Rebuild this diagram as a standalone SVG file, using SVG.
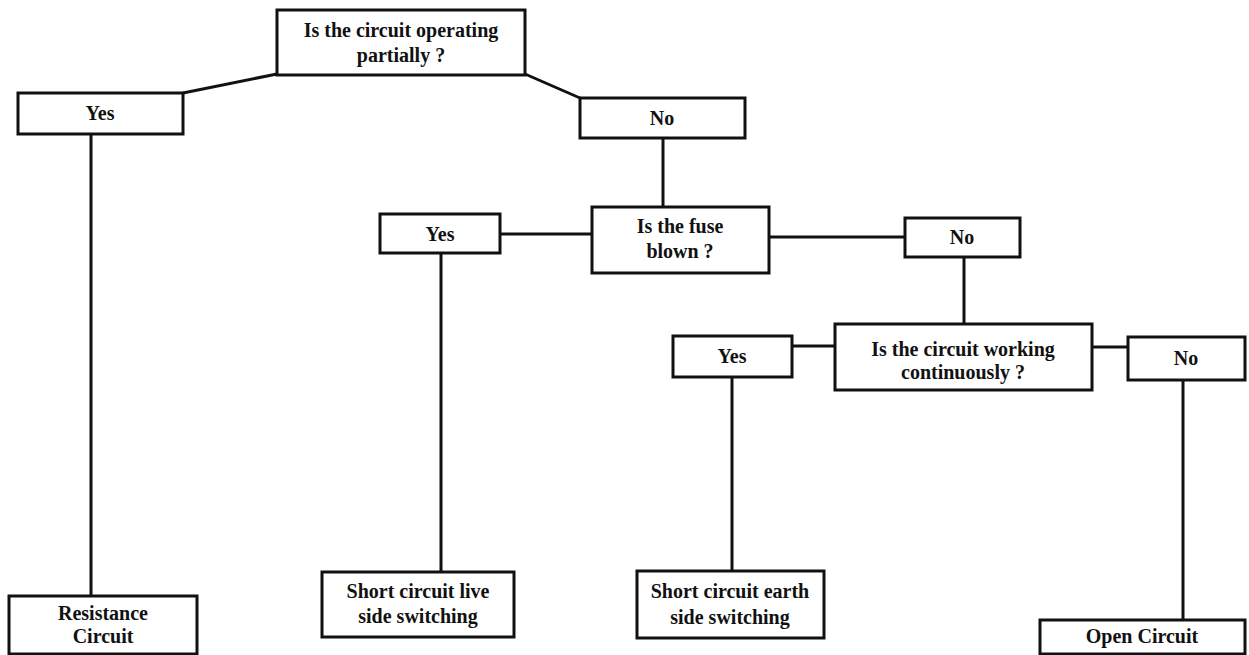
<svg xmlns="http://www.w3.org/2000/svg" width="1249" height="655" viewBox="0 0 1249 655">
<style>
.box{fill:#fff;stroke:#111;stroke-width:3}
.t{font-family:"Liberation Serif","Times New Roman",serif;font-weight:bold;font-size:20px;fill:#111;text-anchor:middle}
.c{stroke:#111;stroke-width:3;fill:none}
</style>
<rect width="1249" height="655" fill="#fff"/>
<g id="connectors">
<line class="c" x1="183" y1="93" x2="277" y2="74"/>
<line class="c" x1="525" y1="74" x2="580" y2="98"/>
<line class="c" x1="91" y1="134" x2="91" y2="596"/>
<line class="c" x1="663" y1="138" x2="663" y2="207"/>
<line class="c" x1="500" y1="234" x2="592" y2="234"/>
<line class="c" x1="769" y1="237" x2="905" y2="237"/>
<line class="c" x1="441" y1="253" x2="441" y2="572"/>
<line class="c" x1="964" y1="257" x2="964" y2="324"/>
<line class="c" x1="792" y1="346" x2="835" y2="346"/>
<line class="c" x1="1092" y1="347" x2="1128" y2="347"/>
<line class="c" x1="732" y1="377" x2="732" y2="571"/>
<line class="c" x1="1183" y1="380" x2="1183" y2="620"/>
</g>
<g id="q1"><rect class="box" x="277" y="10" width="248" height="65"/><text class="t" x="401" y="37">Is the circuit operating</text><text class="t" x="401" y="62">partially ?</text></g>
<g id="yes1"><rect class="box" x="18" y="93" width="165" height="41"/><text class="t" x="100" y="120">Yes</text></g>
<g id="no1"><rect class="box" x="580" y="98" width="165" height="40"/><text class="t" x="662" y="125">No</text></g>
<g id="q2"><rect class="box" x="592" y="207" width="177" height="66"/><text class="t" x="680" y="233">Is the fuse</text><text class="t" x="680" y="258">blown ?</text></g>
<g id="yes2"><rect class="box" x="380" y="214" width="120" height="39"/><text class="t" x="440" y="241">Yes</text></g>
<g id="no2"><rect class="box" x="905" y="218" width="115" height="39"/><text class="t" x="962" y="244">No</text></g>
<g id="q3"><rect class="box" x="835" y="324" width="257" height="66"/><text class="t" x="963" y="356">Is the circuit working</text><text class="t" x="963" y="379">continuously ?</text></g>
<g id="yes3"><rect class="box" x="673" y="336" width="119" height="41"/><text class="t" x="732" y="363">Yes</text></g>
<g id="no3"><rect class="box" x="1128" y="337" width="117" height="43"/><text class="t" x="1186" y="365">No</text></g>
<g id="r1"><rect class="box" x="9" y="596" width="188" height="58"/><text class="t" x="103" y="620">Resistance</text><text class="t" x="103" y="643">Circuit</text></g>
<g id="r2"><rect class="box" x="322" y="572" width="192" height="65"/><text class="t" x="418" y="598">Short circuit live</text><text class="t" x="418" y="623">side switching</text></g>
<g id="r3"><rect class="box" x="637" y="571" width="187" height="67"/><text class="t" x="730" y="598">Short circuit earth</text><text class="t" x="730" y="624">side switching</text></g>
<g id="r4"><rect class="box" x="1040" y="620" width="205" height="34"/><text class="t" x="1142" y="643">Open Circuit</text></g>
</svg>
